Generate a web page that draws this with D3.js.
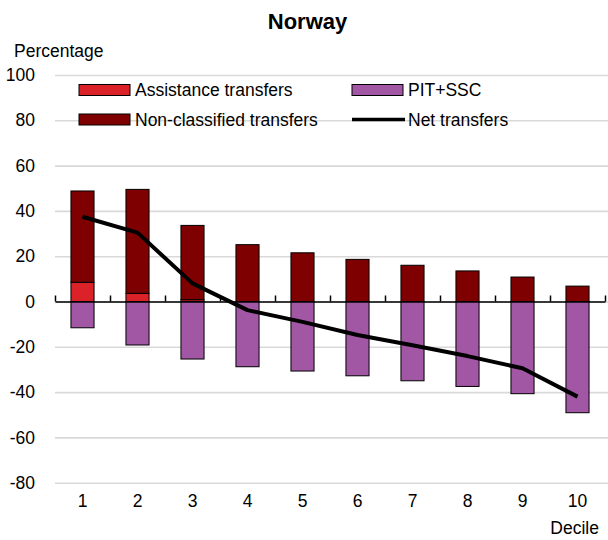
<!DOCTYPE html>
<html>
<head>
<meta charset="utf-8">
<script src="https://cdn.jsdelivr.net/npm/d3@7"></script>
<style>
  html, body { margin: 0; padding: 0; background: #fff; }
  svg { display: block; font-family: "Liberation Sans", Arial, sans-serif; }
</style>
</head>
<body>
<svg id="chart" width="608" height="540"></svg>
<script>
// ---- Data ----
const deciles = ["1", "2", "3", "4", "5", "6", "7", "8", "9", "10"];
const assistanceTransfers = [8.5, 3.6, 0.8, 0, 0, 0, 0, 0, 0, 0];
const nonClassifiedTransfers = [40.3, 45.9, 32.8, 25.1, 21.5, 18.6, 16.0, 13.5, 10.8, 6.8];
const pitSsc = [-11.6, -19.2, -25.4, -28.8, -30.7, -32.8, -35.0, -37.5, -40.7, -49.1];
const netTransfers = [37.4, 30.4, 8.0, -3.8, -9.0, -14.8, -19.3, -24.1, -29.5, -42.0];
const yTicks = [100, 80, 60, 40, 20, 0, -20, -40, -60, -80];

const colors = {
  assistance: "#dc2229",
  nonClassified: "#7f0000",
  pit: "#a157a4",
  net: "#000000",
  grid: "#d9d9d9"
};

const svg = d3.select("#chart");
const left = 55, right = 605;
const gridRight = 608;

const x = d3.scaleBand().domain(deciles).range([left, right]).paddingInner(0.58).paddingOuter(0.29);
const xEdge = d3.scaleLinear().domain([0, deciles.length]).range([left, right]);
const y = d3.scaleLinear().domain([100, -80]).range([75, 482.7]);

// Title
svg.append("text")
  .attr("x", 307.5).attr("y", 28.5)
  .attr("text-anchor", "middle")
  .attr("font-size", 22).attr("font-weight", "bold")
  .text("Norway");

svg.append("text")
  .attr("x", 14).attr("y", 57)
  .attr("font-size", 17.5)
  .text("Percentage");

// Gridlines
svg.append("g")
  .attr("transform", `translate(${left},0)`)
  .call(d3.axisLeft(y).tickValues(yTicks).tickSize(-(gridRight - left)).tickFormat(""))
  .call(g => g.select(".domain").remove())
  .call(g => g.selectAll("line").attr("stroke", colors.grid).attr("stroke-width", 1.6));

// Y labels (plain hyphen-minus as in the reference)
svg.append("g")
  .attr("transform", `translate(35,0)`)
  .call(d3.axisLeft(y).tickValues(yTicks).tickSize(0).tickPadding(0).tickFormat(d => String(d)))
  .call(g => g.select(".domain").remove())
  .call(g => g.selectAll("text").attr("font-size", 17.5).attr("fill", "#000")
    .attr("font-family", "Liberation Sans, Arial, sans-serif"));

// Stacked positive bars
const rows = deciles.map((d, i) => ({
  decile: d,
  assistance: assistanceTransfers[i],
  nonClassified: nonClassifiedTransfers[i]
}));
const stack = d3.stack().keys(["assistance", "nonClassified"])(rows);

stack.forEach(layer => {
  svg.append("g")
    .selectAll("rect")
    .data(layer.filter(d => d[1] - d[0] > 0))
    .join("rect")
    .attr("x", d => x(d.data.decile))
    .attr("width", x.bandwidth())
    .attr("y", d => y(d[1]))
    .attr("height", d => y(d[0]) - y(d[1]))
    .attr("fill", colors[layer.key])
    .attr("stroke", "#000")
    .attr("stroke-width", 1);
});

// Negative PIT+SSC bars
svg.append("g")
  .selectAll("rect")
  .data(pitSsc.map((v, i) => ({ decile: deciles[i], v })))
  .join("rect")
  .attr("x", d => x(d.decile))
  .attr("width", x.bandwidth())
  .attr("y", y(0))
  .attr("height", d => y(d.v) - y(0))
  .attr("fill", colors.pit)
  .attr("stroke", "#000")
  .attr("stroke-width", 1);

// X axis line with upward ticks at band edges
svg.append("g")
  .attr("transform", `translate(0,${y(0)})`)
  .call(d3.axisTop(xEdge).tickValues(d3.range(0, deciles.length + 1)).tickSizeInner(6).tickSizeOuter(0).tickFormat(""))
  .call(g => g.select(".domain").attr("stroke", "#000").attr("stroke-width", 1.5))
  .call(g => g.selectAll("line").attr("stroke", "#000").attr("stroke-width", 1.5));

// Net transfers line
const line = d3.line()
  .x((d, i) => x(deciles[i]) + x.bandwidth() / 2)
  .y(d => y(d));
svg.append("path")
  .datum(netTransfers)
  .attr("d", line)
  .attr("fill", "none")
  .attr("stroke", colors.net)
  .attr("stroke-width", 4)
  .attr("stroke-linejoin", "round");

// X labels
svg.append("g")
  .selectAll("text")
  .data(deciles)
  .join("text")
  .attr("x", d => x(d) + x.bandwidth() / 2)
  .attr("y", 507)
  .attr("text-anchor", "middle")
  .attr("font-size", 17.5)
  .text(d => d);

svg.append("text")
  .attr("x", 599).attr("y", 534)
  .attr("text-anchor", "end")
  .attr("font-size", 17.5)
  .text("Decile");

// Legend
const legendItems = [
  { label: "Assistance transfers", type: "rect", color: colors.assistance, x: 79, y: 90 },
  { label: "PIT+SSC", type: "rect", color: colors.pit, x: 352, y: 90 },
  { label: "Non-classified transfers", type: "rect", color: colors.nonClassified, x: 79, y: 119.5 },
  { label: "Net transfers", type: "line", color: colors.net, x: 352, y: 119.5 }
];
const lg = svg.append("g");
legendItems.forEach(it => {
  if (it.type === "rect") {
    lg.append("rect")
      .attr("x", it.x).attr("y", it.y - 5.5)
      .attr("width", 51).attr("height", 11)
      .attr("fill", it.color).attr("stroke", "#000").attr("stroke-width", 1);
  } else {
    lg.append("line")
      .attr("x1", it.x).attr("x2", it.x + 53)
      .attr("y1", it.y).attr("y2", it.y)
      .attr("stroke", it.color).attr("stroke-width", 3.5);
  }
  lg.append("text")
    .attr("x", it.x + 56).attr("y", it.y + 6.3)
    .attr("font-size", 17.5)
    .text(it.label);
});
</script>
</body>
</html>
